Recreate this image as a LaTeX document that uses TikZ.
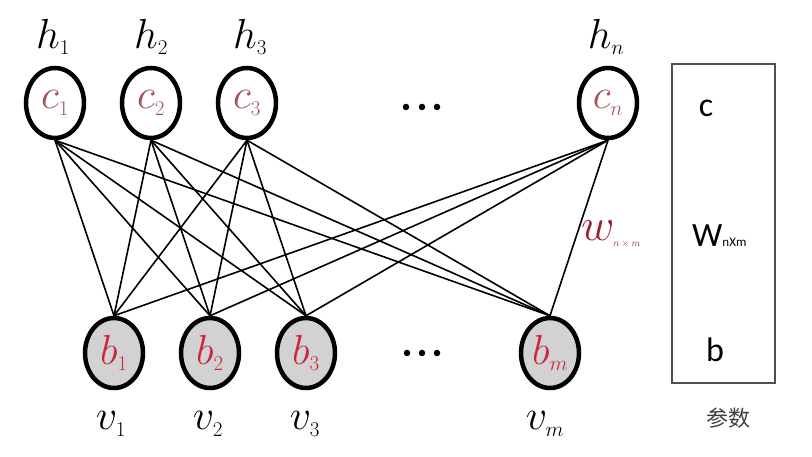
\RequirePackage{fix-cm}
\documentclass[tikz,border=0pt]{standalone}
\usepackage{fontspec}
\newfontfamily\cjk{Noto Sans CJK SC}
\newfontfamily\carl{Carlito}
\usetikzlibrary{shapes.geometric}
\definecolor{clab}{HTML}{A8505A}
\definecolor{blab}{HTML}{C8283C}
\definecolor{wlab}{HTML}{A02030}
\definecolor{bfill}{HTML}{D2D2D2}
\definecolor{boxline}{HTML}{505050}
\begin{document}
\begin{tikzpicture}[x=1pt,y=-1pt,
  hid/.style={ellipse, draw, line width=4.5pt, minimum width=58pt, minimum height=70pt, inner sep=0pt,
    font=\fontsize{42}{46}\selectfont, text=clab},
  vis/.style={hid, fill=bfill, text=blab},
  lab/.style={font=\fontsize{42}{46}\selectfont, inner sep=0pt},
  dot/.style={circle, fill=black, minimum size=6.5pt, inner sep=0pt},
  edge/.style={line width=1.6pt},
  sans/.style={font=\carl\fontsize{34}{38}\selectfont, inner sep=0pt}]
\useasboundingbox (0,0) rectangle (812,457);
% hidden layer
\node[hid] (c1) at (55,103) {$c_{\scriptscriptstyle 1}$};
\node[hid] (c2) at (151,103) {$c_{\scriptscriptstyle 2}$};
\node[hid] (c3) at (247,103) {$c_{\scriptscriptstyle 3}$};
\node[hid] (cn) at (608,103) {$c_{\scriptscriptstyle n}$};
\node[dot] (td1) at (406,107) {};
\node[dot] (td2) at (422,107) {};
\node[dot] (td3) at (437,107) {};
% visible layer
\node[vis] (b1) at (114,353) {$b_{\scriptscriptstyle 1}$};
\node[vis] (b2) at (210,353) {$b_{\scriptscriptstyle 2}$};
\node[vis] (b3) at (306,353) {$b_{\scriptscriptstyle 3}$};
\node[vis] (bm) at (550,353) {$b_{\scriptscriptstyle m}$};
\node[dot] (bd1) at (407,353) {};
\node[dot] (bd2) at (422,353) {};
\node[dot] (bd3) at (437,353) {};
% labels
\node[lab] (h1) at (53,37) {$h_{\scriptscriptstyle 1}$};
\node[lab] (h2) at (151,37) {$h_{\scriptscriptstyle 2}$};
\node[lab] (h3) at (250,37) {$h_{\scriptscriptstyle 3}$};
\node[lab] (hn) at (606,37) {$h_{\scriptscriptstyle n}$};
\node[lab] (v1) at (111,424) {$v_{\scriptscriptstyle 1}$};
\node[lab] (v2) at (208,424) {$v_{\scriptscriptstyle 2}$};
\node[lab] (v3) at (305,424) {$v_{\scriptscriptstyle 3}$};
\node[lab] (vm) at (545,424) {$v_{\scriptscriptstyle m}$};
% edges
\foreach \t in {c1,c2,c3,cn}{
  \foreach \b in {b1,b2,b3,bm}{
    \draw[edge] (\t.south) -- (\b.north);
  }
}
\node[lab, text=wlab, anchor=west, font=\fontsize{46}{50}\selectfont] (w) at (581,234) {$w_{\hbox{\fontsize{10}{11}\selectfont$n\times m$}}$};
% parameter box
\node[draw=boxline, line width=1.8pt, minimum width=103pt, minimum height=319pt, inner sep=0pt] (box) at (723.5,223.5) {};
\node[sans] (pc) at (706,108) {c};
\node[sans, anchor=west] (pw) at (692,236) {\fontsize{34}{36}\selectfont W\fontsize{13}{14}\selectfont nXm};
\node[sans] (pb) at (715,350) {b};
\node[font=\cjk\fontsize{22}{24}\selectfont, text=black!75, inner sep=0pt] (param) at (728,418) {参数};
\end{tikzpicture}
\end{document}
